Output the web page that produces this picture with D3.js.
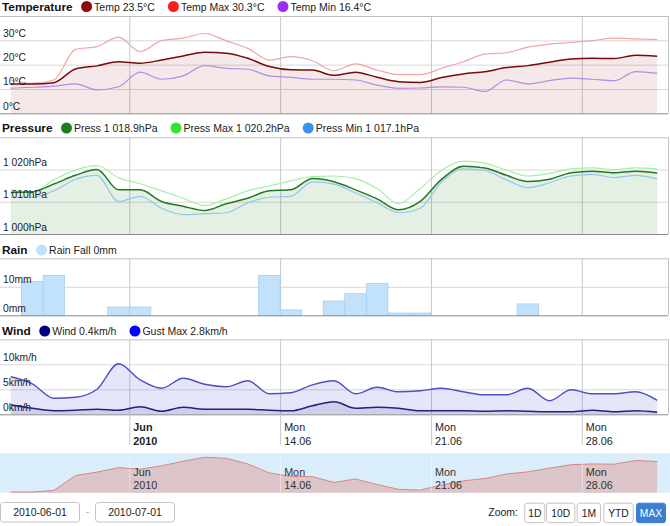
<!DOCTYPE html>
<html>
<head>
<meta charset="utf-8">
<script src="https://cdn.jsdelivr.net/npm/d3@7"></script>
<style>
  body { margin: 0; background: #fff; }
  text { font-family: "Liberation Sans", Arial, sans-serif; }
</style>
</head>
<body>
<div id="app"></div>
<script>
// daily values, 1 June .. 1 July 2010 (plotted at noon)
const temp    = [12.0, 12.0, 12.6, 18.2, 19.5, 21.2, 20.6, 21.9, 23.6, 25.1, 24.7, 22.6, 19.2, 17.9, 17.8, 15.6, 16.9, 14.8, 13.0, 12.7, 14.7, 16.2, 17.1, 18.8, 19.6, 21.0, 22.3, 22.6, 22.5, 23.9, 23.5];
const tempMax = [13.7, 12.3, 13.7, 26.3, 27.4, 31.3, 25.4, 29.9, 30.9, 32.8, 29.8, 26.7, 21.9, 23.3, 21.6, 17.5, 20.3, 17.8, 15.9, 15.9, 18.5, 21.2, 24.3, 24.9, 27.2, 28.4, 29.1, 29.9, 30.9, 30.6, 30.3];
const tempMin = [10.3, 10.7, 11.2, 12.1, 9.6, 10.9, 16.9, 14.0, 15.4, 19.6, 18.5, 18.1, 15.4, 14.8, 14.0, 14.0, 13.7, 11.6, 10.3, 10.4, 10.9, 10.7, 9.0, 13.7, 12.1, 13.4, 14.5, 14.0, 13.4, 17.1, 16.4];

const press    = [1012.9, 1013.1, 1015.5, 1018.2, 1020.0, 1013.7, 1013.7, 1010.1, 1008.6, 1007.3, 1009.4, 1011.1, 1013.4, 1013.7, 1017.2, 1016.2, 1013.7, 1010.9, 1007.5, 1010.1, 1017.0, 1021.0, 1020.5, 1018.2, 1016.3, 1017.0, 1019.0, 1019.5, 1019.0, 1019.5, 1018.9];
const pressMax = [1013.7, 1013.1, 1016.8, 1019.8, 1021.2, 1017.5, 1015.6, 1013.4, 1011.1, 1008.8, 1010.9, 1013.4, 1014.9, 1016.5, 1017.8, 1018.0, 1017.2, 1014.1, 1009.4, 1014.1, 1019.8, 1022.6, 1022.0, 1019.8, 1018.0, 1018.8, 1020.2, 1020.5, 1020.0, 1020.5, 1020.2];
const pressMin = [1011.4, 1011.4, 1013.4, 1017.0, 1018.2, 1010.1, 1011.7, 1008.0, 1006.0, 1006.3, 1006.6, 1009.7, 1011.4, 1011.7, 1016.2, 1015.5, 1012.7, 1009.7, 1006.6, 1008.0, 1016.2, 1020.2, 1019.7, 1016.8, 1014.4, 1015.9, 1018.0, 1018.5, 1017.5, 1018.2, 1017.1];

const rain = [0, 11.9, 14.0, 0, 0, 2.9, 2.9, 0, 0, 0, 0, 0, 14.0, 1.9, 0, 5.0, 7.6, 11.2, 0.8, 0.8, 0, 0, 0, 0, 4.0, 0, 0, 0, 0, 0, 0];

const gust = [7.5, 6.1, 3.2, 3.4, 5.0, 10.1, 6.9, 5.2, 7.2, 6.0, 5.5, 6.7, 4.1, 4.3, 5.9, 6.7, 4.1, 5.4, 4.5, 4.7, 5.2, 4.5, 3.9, 3.9, 5.2, 2.7, 4.9, 4.1, 4.1, 4.5, 2.8];
const wind = [1.9, 1.2, 0.7, 0.8, 1.0, 0.8, 1.5, 0.6, 1.4, 1.0, 1.0, 1.0, 0.8, 0.7, 1.7, 2.5, 1.2, 1.4, 1.2, 0.7, 0.7, 0.7, 0.6, 0.7, 0.6, 0.5, 0.5, 0.8, 0.5, 0.7, 0.4];

const tickDates  = ["2010-06-07", "2010-06-14", "2010-06-21", "2010-06-28"];
const tickLabels = [["Jun", "2010"], ["Mon", "14.06"], ["Mon", "21.06"], ["Mon", "28.06"]];
const zoomButtons = ["1D", "10D", "1M", "YTD", "MAX"];
const dateRange = ["2010-06-01", "2010-07-01"];

const width = 670, height = 526, plotW = 668;
const days = d3.utcDay.range(new Date(Date.UTC(2010, 5, 1)), new Date(Date.UTC(2010, 6, 2)));
const mid = days.map(d => d3.utcHour.offset(d, 12));
const ticks = tickDates.map(s => new Date(s + "T00:00:00Z"));

const x = d3.scaleUtc()
    .domain([days[0], new Date(Date.UTC(2010, 6, 2))])
    .range([0, plotW]);

const svg = d3.select("#app").append("svg")
    .attr("width", width)
    .attr("height", height);

// one stacked pane: gridlines, borders, y labels
function pane(top, bottom, domain, gridVals, fmt) {
    const y = d3.scaleLinear().domain(domain).range([bottom, top]);
    const g = svg.append("g");

    g.append("g")
        .call(d3.axisLeft(y).tickValues(gridVals).tickSize(-plotW).tickFormat(""))
        .call(a => a.select(".domain").remove())
        .call(a => a.selectAll("line").attr("stroke", "#d8d8d8"));

    g.append("g")
        .attr("transform", `translate(0,${bottom})`)
        .call(d3.axisBottom(x).tickValues(ticks).tickSize(-(bottom - top)).tickFormat(""))
        .call(a => a.select(".domain").remove())
        .call(a => a.selectAll("line").attr("stroke", "#c8c8c8"));

    g.append("line").attr("x1", 0).attr("x2", plotW).attr("y1", top + 0.5).attr("y2", top + 0.5).attr("stroke", "#c0c0c0");
    g.append("line").attr("x1", plotW + 0.5).attr("x2", plotW + 0.5).attr("y1", top).attr("y2", bottom).attr("stroke", "#c0c0c0");

    const labels = svg.append("g").attr("class", "labels");
    return { y, g, labels, draw: () => {
        labels.selectAll("text")
            .data([domain[0]].concat(gridVals))
            .join("text")
            .attr("x", 3)
            .attr("y", d => y(d) - 3.5)
            .attr("font-size", "10.3px")
            .attr("fill", "#222")
            .text(fmt);
        g.append("line").attr("x1", 0).attr("x2", plotW).attr("y1", bottom + 0.5).attr("y2", bottom + 0.5).attr("stroke", "#8a8a8a");
    }};
}

function legend(yBase, title, items) {
    const lg = svg.append("g");
    const t = lg.append("text")
        .attr("x", 2).attr("y", yBase)
        .attr("font-size", "11.8px").attr("font-weight", "bold").attr("fill", "#111")
        .text(title);
    let cx = 2 + t.node().getComputedTextLength() + 14;
    items.forEach(it => {
        lg.append("circle").attr("cx", cx).attr("cy", yBase - 4).attr("r", 5.5).attr("fill", it.color);
        const tt = lg.append("text")
            .attr("x", cx + 7.5).attr("y", yBase)
            .attr("font-size", "10.5px").attr("fill", "#222")
            .text(it.label);
        cx += 7.5 + tt.node().getComputedTextLength() + 18.5;
    });
}

function line(p, vals, color, w) {
    p.g.append("path")
        .datum(vals)
        .attr("fill", "none")
        .attr("stroke", color)
        .attr("stroke-width", w)
        .attr("d", d3.line().x((d, i) => x(mid[i])).y(d => p.y(d)).curve(d3.curveMonotoneX));
}

function area(p, vals, color) {
    p.g.append("path")
        .datum(vals)
        .attr("fill", color)
        .attr("d", d3.area().x((d, i) => x(mid[i])).y0(p.y.range()[0]).y1(d => p.y(d)).curve(d3.curveMonotoneX));
}

// Temperature
legend(10.5, "Temperature", [
    { color: "#8b0a0a", label: "Temp 23.5°C" },
    { color: "#ff1a1a", label: "Temp Max 30.3°C" },
    { color: "#9a30f0", label: "Temp Min 16.4°C" }
]);
const pT = pane(16, 113.3, [0, 40], [10, 20, 30], d => d + "°C");
area(pT, temp, "rgba(128,0,0,0.09)");
line(pT, tempMax, "#f2a4a4", 1.2);
line(pT, tempMin, "#b48ce6", 1.2);
line(pT, temp, "#7a0a0a", 1.5);
pT.draw();

// Pressure
legend(132, "Pressure", [
    { color: "#1f7f1f", label: "Press 1 018.9hPa" },
    { color: "#2ee62e", label: "Press Max 1 020.2hPa" },
    { color: "#3a92ea", label: "Press Min 1 017.1hPa" }
]);
const fmtP = d => d3.format(",")(d).replace(",", " ") + "hPa";
const pP = pane(137.3, 234, [1000, 1030], [1010, 1020], fmtP);
area(pP, press, "rgba(0,110,0,0.1)");
line(pP, pressMax, "#a4f0a4", 1.2);
line(pP, pressMin, "#94c6ec", 1.2);
line(pP, press, "#217a21", 1.5);
pP.draw();

// Rain
legend(254, "Rain", [{ color: "#bfe0fa", label: "Rain Fall 0mm" }]);
const pR = pane(258.3, 315.3, [0, 20], [10], d => d + "mm");
pR.g.selectAll("rect.bar")
    .data(rain.map((v, i) => ({ v, d: days[i] })).filter(o => o.v > 0))
    .join("rect")
    .attr("class", "bar")
    .attr("x", o => x(o.d))
    .attr("width", o => x(d3.utcDay.offset(o.d, 1)) - x(o.d))
    .attr("y", o => pR.y(o.v))
    .attr("height", o => pR.y(0) - pR.y(o.v))
    .attr("fill", "#c2e2fb")
    .attr("stroke", "#a6cff0")
    .attr("stroke-width", 0.8);
pR.draw();

// Wind
legend(335, "Wind", [
    { color: "#000080", label: "Wind 0.4km/h" },
    { color: "#0000ff", label: "Gust Max 2.8km/h" }
]);
const pW = pane(339.3, 414.3, [0, 15], [5, 10], d => d + "km/h");
area(pW, gust, "rgba(60,60,220,0.13)");
line(pW, gust, "#4f4fc4", 1.4);
area(pW, wind, "rgba(0,0,128,0.1)");
line(pW, wind, "#22227e", 1.5);
pW.draw();

// x axis below wind pane
svg.append("g")
    .attr("transform", "translate(0,445)")
    .call(d3.axisBottom(x).tickValues(ticks).tickSize(-31).tickFormat(""))
    .call(a => a.select(".domain").remove())
    .call(a => a.selectAll("line").attr("stroke", "#c8c8c8"));

const xl = svg.append("g").selectAll("g")
    .data(ticks)
    .join("g")
    .attr("transform", d => `translate(${x(d) + 4},0)`);
xl.append("text").attr("y", 431).attr("font-size", "10.8px").attr("fill", "#222")
    .attr("font-weight", (d, i) => i === 0 ? "bold" : "normal")
    .text((d, i) => tickLabels[i][0]);
xl.append("text").attr("y", 445).attr("font-size", "10.8px").attr("fill", "#222")
    .attr("font-weight", (d, i) => i === 0 ? "bold" : "normal")
    .text((d, i) => tickLabels[i][1]);

// navigator
const navTop = 453.3, navBottom = 492.7;
const yNav = d3.scaleLinear().domain(d3.extent(temp)).range([492, 457.3]);
svg.append("rect").attr("x", 0).attr("y", navTop).attr("width", width).attr("height", navBottom - navTop).attr("fill", "#daedfa");
svg.append("path")
    .datum(temp)
    .attr("fill", "#dcc5c8")
    .attr("d", d3.area().x((d, i) => x(mid[i])).y0(navBottom).y1(d => yNav(d)));
svg.append("path")
    .datum(temp)
    .attr("fill", "none")
    .attr("stroke", "#d98686")
    .attr("stroke-width", 1)
    .attr("d", d3.line().x((d, i) => x(mid[i])).y(d => yNav(d)));
svg.append("g")
    .attr("transform", `translate(0,${navBottom})`)
    .call(d3.axisBottom(x).tickValues(ticks).tickSize(-(navBottom - navTop)).tickFormat(""))
    .call(a => a.select(".domain").remove())
    .call(a => a.selectAll("line").attr("stroke", "rgba(255,255,255,0.45)"));
const nl = svg.append("g").selectAll("g")
    .data(ticks)
    .join("g")
    .attr("transform", d => `translate(${x(d) + 4},0)`);
nl.append("text").attr("y", 475.5).attr("font-size", "10.8px").attr("fill", "#333").text((d, i) => tickLabels[i][0]);
nl.append("text").attr("y", 489).attr("font-size", "10.8px").attr("fill", "#333").text((d, i) => tickLabels[i][1]);

// range inputs
const inputs = svg.append("g").selectAll("g")
    .data(dateRange)
    .join("g")
    .attr("transform", (d, i) => `translate(${i * 95},0)`);
inputs.append("rect").attr("x", 0.5).attr("y", 502.5).attr("width", 79).attr("height", 19.5).attr("rx", 3)
    .attr("fill", "#fff").attr("stroke", "#c4c4c4");
inputs.append("text").attr("x", 40).attr("y", 516).attr("text-anchor", "middle").attr("font-size", "10.5px").attr("fill", "#222").text(d => d);
svg.append("text").attr("x", 87.5).attr("y", 515).attr("text-anchor", "middle").attr("font-size", "10px").attr("fill", "#aaa").text("-");

// zoom buttons
svg.append("text").attr("x", 518).attr("y", 516).attr("text-anchor", "end").attr("font-size", "10.5px").attr("fill", "#222").text("Zoom:");
const btnX = [524.3, 546, 576.7, 603.3, 636];
const btnW = [20, 28.3, 23.3, 29.4, 29];
const btn = svg.append("g").selectAll("g")
    .data(zoomButtons)
    .join("g")
    .attr("transform", (d, i) => `translate(${btnX[i]},502.7)`);
btn.append("rect").attr("x", 0.5).attr("y", 0.5).attr("width", (d, i) => btnW[i]).attr("height", 19.5).attr("rx", 2.5)
    .attr("fill", d => d === "MAX" ? "#3a7fd2" : "#fff")
    .attr("stroke", d => d === "MAX" ? "#3a7fd2" : "#c4c4c4");
btn.append("text").attr("x", (d, i) => btnW[i] / 2 + 0.5).attr("y", 14)
    .attr("text-anchor", "middle").attr("font-size", "10.3px")
    .attr("fill", d => d === "MAX" ? "#fff" : "#222")
    .text(d => d);
</script>
</body>
</html>
